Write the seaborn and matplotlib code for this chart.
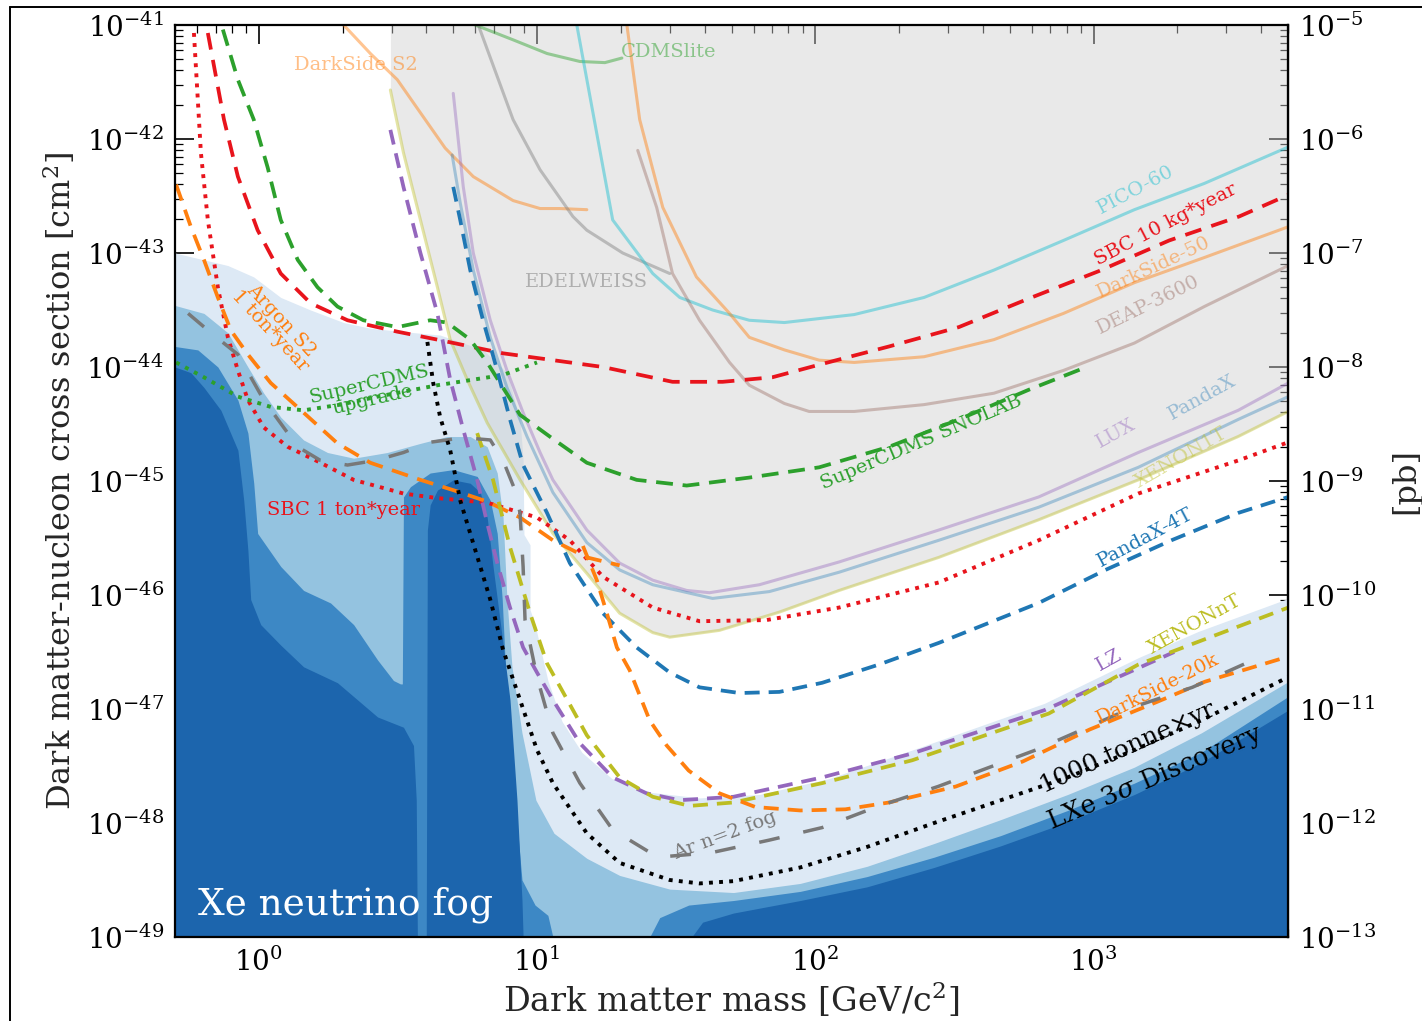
import numpy as np
import matplotlib
matplotlib.use("Agg")
import matplotlib.pyplot as plt
import seaborn as sns
from matplotlib.lines import Line2D
from matplotlib.ticker import LogLocator, NullFormatter

# ---------------- data (log10 mass [GeV], log10 cross section [cm^2]) ----------------
pico60_logm = [1.143, 1.272, 1.416, 1.513, 1.631, 1.763, 1.889, 2.140, 2.391, 2.642, 2.892, 3.147, 3.398, 3.70]
pico60_logs = [-41.0, -42.71, -43.18, -43.39, -43.50, -43.59, -43.61, -43.54, -43.39, -43.15, -42.89, -42.62, -42.39, -42.07]

ds50_logm = [1.323, 1.369, 1.452, 1.573, 1.692, 1.763, 1.889, 2.014, 2.140, 2.391, 2.642, 2.892, 3.147, 3.398, 3.70]
ds50_logs = [-41.0, -41.83, -42.60, -43.21, -43.53, -43.74, -43.85, -43.94, -43.96, -43.91, -43.76, -43.53, -43.26, -43.04, -42.77]

deap_logm = [1.362, 1.430, 1.487, 1.584, 1.692, 1.763, 1.889, 1.978, 2.140, 2.391, 2.642, 2.892, 3.147, 3.398, 3.70]
deap_logs = [-42.10, -42.60, -43.18, -43.59, -43.96, -44.16, -44.32, -44.39, -44.39, -44.33, -44.23, -44.03, -43.79, -43.47, -43.11]

edel_logm = [0.789, 0.914, 1.011, 1.129, 1.179, 1.308, 1.477]
edel_logs = [-41.0, -41.83, -42.27, -42.68, -42.80, -43.00, -43.18]

cdmslite_logm = [0.778, 0.914, 1.036, 1.154, 1.244, 1.305]
cdmslite_logs = [-41.0, -41.13, -41.25, -41.32, -41.33, -41.29]

dss2_logm = [0.305, 0.401, 0.498, 0.581, 0.670, 0.771, 0.914, 1.011, 1.082, 1.179]
dss2_logs = [-41.0, -41.25, -41.48, -41.77, -42.08, -42.33, -42.54, -42.61, -42.61, -42.62]

lux_logm = [0.699, 0.735, 0.771, 0.832, 0.892, 0.950, 1.011, 1.057, 1.179, 1.297, 1.416, 1.538, 1.620, 1.799, 2.086, 2.444, 2.803, 3.161, 3.520, 3.70]
lux_logs = [-41.60, -42.42, -43.0, -43.59, -44.03, -44.40, -44.75, -44.99, -45.43, -45.72, -45.87, -45.96, -45.98, -45.91, -45.71, -45.43, -45.14, -44.75, -44.38, -44.14]

pandax_logm = [0.695, 0.724, 0.771, 0.832, 0.892, 0.964, 1.057, 1.179, 1.297, 1.416, 1.631, 1.835, 2.086, 2.444, 2.803, 3.161, 3.520, 3.70]
pandax_logs = [-42.14, -42.56, -43.15, -43.74, -44.18, -44.61, -45.10, -45.54, -45.78, -45.91, -46.03, -45.97, -45.80, -45.52, -45.23, -44.88, -44.46, -44.26]

xe1t_logm = [0.473, 0.520, 0.581, 0.642, 0.688, 0.749, 0.821, 0.939, 1.057, 1.179, 1.297, 1.416, 1.477, 1.656, 1.871, 2.086, 2.444, 2.803, 3.161, 3.520, 3.70]
xe1t_logs = [-41.57, -42.12, -42.71, -43.30, -43.76, -44.11, -44.49, -44.99, -45.46, -45.81, -46.16, -46.33, -46.37, -46.31, -46.15, -45.96, -45.67, -45.34, -44.99, -44.61, -44.39]

sbc10_logm = [-0.183, -0.125, -0.075, -0.004, 0.079, 0.186, 0.319, 0.498, 0.642, 0.878, 1.237, 1.487, 1.667, 1.846, 2.014, 2.265, 2.516, 2.767, 3.018, 3.272, 3.523, 3.70]
sbc10_logs = [-41.07, -41.83, -42.33, -42.80, -43.18, -43.44, -43.59, -43.69, -43.76, -43.88, -44.00, -44.13, -44.13, -44.09, -43.98, -43.82, -43.65, -43.40, -43.16, -42.89, -42.68, -42.49]

sbc1t_logm = [-0.233, -0.208, -0.183, -0.147, -0.111, -0.075, -0.039, 0.018, 0.104, 0.222, 0.341, 0.520, 0.642, 0.821, 1.000, 1.118, 1.237, 1.416, 1.584, 1.824, 2.086, 2.444, 2.803, 3.161, 3.520, 3.70]
sbc1t_logs = [-41.07, -42.12, -42.71, -43.30, -43.74, -44.03, -44.29, -44.53, -44.70, -44.84, -44.99, -45.11, -45.15, -45.19, -45.32, -45.52, -45.84, -46.11, -46.23, -46.22, -46.11, -45.89, -45.52, -45.11, -44.82, -44.66]

snolab_logm = [-0.129, -0.075, -0.018, 0.032, 0.079, 0.140, 0.211, 0.283, 0.376, 0.498, 0.616, 0.677, 0.760, 0.821, 0.939, 1.057, 1.179, 1.358, 1.538, 1.763, 2.014, 2.265, 2.516, 2.767, 2.975]
snolab_logs = [-41.04, -41.48, -41.83, -42.25, -42.71, -43.06, -43.30, -43.47, -43.59, -43.65, -43.59, -43.61, -43.76, -43.96, -44.42, -44.63, -44.84, -44.99, -45.04, -44.97, -44.88, -44.70, -44.46, -44.20, -44.00]

cdmsup_logm = [-0.297, -0.197, -0.075, 0.043, 0.161, 0.294, 0.427, 0.642, 0.878, 1.000]
cdmsup_logs = [-43.96, -44.09, -44.26, -44.35, -44.38, -44.33, -44.26, -44.16, -44.07, -43.96]

args2_logm = [-0.297, -0.244, -0.197, -0.147, -0.100, -0.039, 0.043, 0.161, 0.283, 0.401, 0.581, 0.699, 0.821, 0.939, 1.057, 1.179, 1.297]
args2_logs = [-42.40, -42.77, -43.06, -43.39, -43.68, -43.89, -44.14, -44.40, -44.67, -44.84, -44.99, -45.08, -45.18, -45.32, -45.52, -45.67, -45.74]

ds20k_logm = [1.165, 1.215, 1.251, 1.287, 1.333, 1.405, 1.466, 1.545, 1.656, 1.785, 1.946, 2.108, 2.265, 2.505, 2.746, 2.986, 3.226, 3.401, 3.70]
ds20k_logs = [-45.57, -45.87, -46.16, -46.46, -46.66, -47.10, -47.32, -47.54, -47.74, -47.86, -47.89, -47.88, -47.82, -47.68, -47.46, -47.18, -46.94, -46.76, -46.54]

lz_logm = [0.473, 0.520, 0.581, 0.642, 0.688, 0.735, 0.785, 0.821, 0.857, 0.903, 0.950, 1.000, 1.057, 1.154, 1.272, 1.394, 1.513, 1.706, 2.025, 2.348, 2.824, 3.290]
lz_logs = [-41.92, -42.42, -43.00, -43.53, -44.11, -44.55, -44.99, -45.37, -45.72, -46.11, -46.46, -46.68, -46.92, -47.30, -47.60, -47.74, -47.80, -47.77, -47.60, -47.39, -47.01, -46.50]

xent_logm = [0.785, 0.842, 0.903, 0.975, 1.036, 1.118, 1.179, 1.297, 1.416, 1.548, 1.706, 2.025, 2.348, 2.839, 3.161, 3.70]
xent_logs = [-44.58, -44.99, -45.58, -46.16, -46.60, -46.96, -47.23, -47.60, -47.77, -47.85, -47.82, -47.65, -47.45, -47.04, -46.61, -46.11]

px4t_logm = [0.699, 0.724, 0.760, 0.806, 0.857, 0.903, 0.950, 1.036, 1.118, 1.237, 1.358, 1.477, 1.584, 1.728, 1.871, 2.025, 2.229, 2.444, 2.803, 3.043, 3.280, 3.520, 3.70]
px4t_logs = [-42.42, -42.71, -43.15, -43.59, -44.03, -44.46, -44.86, -45.28, -45.72, -46.16, -46.46, -46.68, -46.81, -46.86, -46.85, -46.77, -46.61, -46.42, -46.07, -45.78, -45.52, -45.28, -45.14]

arfog_logm = [-0.254, -0.172, -0.075, 0.018, 0.140, 0.222, 0.319, 0.419, 0.520, 0.616, 0.735, 0.832, 0.878, 0.921, 0.939, 0.950, 0.957, 1.000, 1.057, 1.154, 1.272, 1.434, 1.627, 1.835, 2.025, 2.219, 2.441, 2.792, 3.147, 3.355, 3.556]
arfog_logs = [-43.53, -43.70, -43.89, -44.29, -44.70, -44.82, -44.86, -44.82, -44.75, -44.66, -44.62, -44.64, -44.82, -45.08, -45.28, -45.75, -46.22, -46.72, -47.21, -47.65, -48.06, -48.30, -48.26, -48.15, -48.04, -47.86, -47.68, -47.36, -46.98, -46.81, -46.59]

lxe_logm = [0.606, 0.627, 0.652, 0.688, 0.724, 0.760, 0.796, 0.832, 0.878, 0.939, 1.000, 1.057, 1.179, 1.297, 1.477, 1.584, 1.706, 1.946, 2.186, 2.427, 2.667, 2.907, 3.147, 3.387, 3.70]
lxe_logs = [-43.78, -44.14, -44.44, -44.73, -45.17, -45.46, -45.75, -46.04, -46.48, -46.92, -47.36, -47.65, -48.09, -48.35, -48.50, -48.53, -48.51, -48.39, -48.21, -48.00, -47.80, -47.60, -47.36, -47.10, -46.72]

# neutrino fog contour levels (upper boundaries)
fog1_logm = [-0.301, -0.197, -0.111, -0.018, 0.079, 0.186, 0.305, 0.401, 0.520, 0.652, 0.806, 0.892, 0.939, 0.950, 0.953, 0.975, 0.975, 0.993, 1.039, 1.090, 1.161, 1.269, 1.405, 1.584, 1.799, 2.050, 2.348, 2.824, 3.161, 3.376, 3.70]
fog1_logs = [-43.0, -43.06, -43.11, -43.21, -43.39, -43.50, -43.61, -43.66, -43.69, -43.72, -43.85, -44.05, -44.46, -44.82, -45.47, -45.56, -46.13, -46.26, -46.75, -47.11, -47.38, -47.61, -47.73, -47.78, -47.75, -47.61, -47.36, -46.95, -46.55, -46.32, -46.03]

fog2_logm = [-0.301, -0.197, -0.111, -0.039, 0.018, 0.079, 0.161, 0.247, 0.341, 0.462, 0.581, 0.677, 0.760, 0.821, 0.857, 0.878, 0.892, 0.910, 0.946, 0.996, 1.061, 1.179, 1.297, 1.477, 1.706, 1.946, 2.186, 2.427, 2.667, 2.907, 3.147, 3.387, 3.70]
fog2_logs = [-43.46, -43.53, -43.70, -44.00, -44.23, -44.44, -44.64, -44.75, -44.80, -44.75, -44.67, -44.61, -44.61, -44.70, -44.93, -45.32, -46.04, -46.63, -47.21, -47.80, -48.09, -48.31, -48.46, -48.58, -48.61, -48.53, -48.38, -48.18, -47.97, -47.75, -47.51, -47.21, -46.76]

fog3a_logm = [-0.301, -0.219, -0.147, -0.075, -0.039, -0.018, -0.004, 0.079, 0.161, 0.258, 0.341, 0.427, 0.484, 0.509, 0.516, 0.520, 0.545, 0.616, 0.699, 0.785, 0.832, 0.857, 0.875, 0.892, 0.921, 0.946, 0.993, 1.039, 1.057]
fog3a_logs = [-43.82, -43.85, -44.00, -44.29, -44.58, -45.02, -45.46, -45.75, -45.96, -46.07, -46.26, -46.57, -46.75, -46.78, -46.78, -45.14, -45.05, -44.93, -44.90, -44.96, -45.17, -45.46, -46.04, -46.92, -47.80, -48.50, -48.72, -48.81, -49.0]
fog3b_logm = [1.405, 1.441, 1.545, 1.706, 1.946, 2.186, 2.427, 2.667, 2.907, 3.147, 3.387, 3.70]
fog3b_logs = [-49.0, -48.83, -48.72, -48.68, -48.60, -48.47, -48.30, -48.11, -47.89, -47.65, -47.38, -46.89]

fog4a_logm = [-0.301, -0.244, -0.197, -0.136, -0.075, -0.054, -0.039, -0.029, 0.007, 0.079, 0.161, 0.283, 0.355, 0.427, 0.520, 0.556, 0.566, 0.570, 0.602, 0.606, 0.616, 0.642, 0.699, 0.760, 0.796, 0.821, 0.842, 0.867, 0.903, 0.928, 0.946, 0.950]
fog4a_logs = [-44.00, -44.05, -44.18, -44.38, -44.73, -45.17, -45.61, -46.04, -46.26, -46.44, -46.63, -46.77, -46.92, -47.07, -47.16, -47.32, -47.80, -49.0, -49.0, -45.43, -45.21, -45.08, -44.99, -45.02, -45.10, -45.32, -45.75, -46.22, -46.92, -47.80, -48.68, -49.0]
fog4b_logm = [1.556, 1.595, 1.706, 1.946, 2.186, 2.427, 2.667, 2.907, 3.147, 3.387, 3.70]
fog4b_logs = [-49.0, -48.87, -48.79, -48.68, -48.56, -48.39, -48.20, -47.99, -47.75, -47.47, -47.01]

# ---------------- style ----------------
sns.set_theme(style="ticks")
plt.rcParams["font.family"] = ["DejaVu Serif"]
plt.rcParams["mathtext.fontset"] = "dejavuserif"

C_BLUE, C_ORANGE, C_GREEN = "#1f77b4", "#ff7f0e", "#2ca02c"
C_PURPLE, C_BROWN, C_GRAY = "#9467bd", "#8c564b", "#7f7f7f"
C_OLIVE, C_CYAN, C_RED = "#bcbd22", "#17becf", "#e8141c"


def xy(lm, ls):
    return 10.0 ** np.asarray(lm, float), 10.0 ** np.asarray(ls, float)


fig = plt.figure(figsize=(14.22, 10.21), dpi=100)
fig.patch.set_facecolor("white")
ax = fig.add_axes([175 / 1422, 1 - 937 / 1021, (1288 - 175) / 1422, (937 - 25) / 1021])
ax.set_facecolor("white")
ax.set_xscale("log")
ax.set_yscale("log")
ax.set_xlim(0.5, 5000)
ax.set_ylim(1e-49, 1e-41)

# neutrino fog
BOTTOM = 1e-50
for lm, ls, col in [(fog1_logm, fog1_logs, "#dde9f5"),
                    (fog2_logm, fog2_logs, "#94c3e0"),
                    (fog3a_logm, fog3a_logs, "#3d88c5"),
                    (fog3b_logm, fog3b_logs, "#3d88c5"),
                    (fog4a_logm, fog4a_logs, "#1c65ad"),
                    (fog4b_logm, fog4b_logs, "#1c65ad")]:
    m, s = xy(lm, ls)
    ax.fill_between(m, s, BOTTOM, color=col, lw=0, zorder=1)

# excluded (grey) region above XENON1T
m, s = xy(xe1t_logm, xe1t_logs)
ax.fill_between(m, s, 1e-40, color="#cfcfcf", alpha=0.45, lw=0, zorder=2)


def line(lm, ls, color, lw=2.2, style="-", alpha=1.0, z=3):
    m, s = xy(lm, ls)
    sns.lineplot(x=m, y=s, ax=ax, color=color, lw=lw, linestyle=style,
                 alpha=alpha, estimator=None, sort=False, zorder=z)


# existing limits (faint solid)
line(dss2_logm, dss2_logs, C_ORANGE, alpha=0.45)
line(cdmslite_logm, cdmslite_logs, C_GREEN, alpha=0.45)
line(edel_logm, edel_logs, C_GRAY, alpha=0.45)
line(pico60_logm, pico60_logs, C_CYAN, alpha=0.45)
line(ds50_logm, ds50_logs, C_ORANGE, alpha=0.45)
line(deap_logm, deap_logs, C_BROWN, alpha=0.35)
line(lux_logm, lux_logs, C_PURPLE, alpha=0.4)
line(pandax_logm, pandax_logs, C_BLUE, alpha=0.35)
line(xe1t_logm, xe1t_logs, C_OLIVE, alpha=0.4)

# projections
line(sbc10_logm, sbc10_logs, C_RED, lw=2.7, style=(0, (4.5, 2.8)), z=4)
line(sbc1t_logm, sbc1t_logs, C_RED, lw=2.8, style=(0, (1, 1.6)), z=4)
line(snolab_logm, snolab_logs, C_GREEN, lw=2.7, style=(0, (4.5, 2.6)), z=4)
line(cdmsup_logm, cdmsup_logs, C_GREEN, lw=2.8, style=(0, (1, 1.6)), z=4)
line(args2_logm, args2_logs, C_ORANGE, lw=2.7, style=(0, (4.5, 2.6)), z=4)
line(px4t_logm, px4t_logs, C_BLUE, lw=2.7, style=(0, (4, 2.4)), z=4)
line(lz_logm, lz_logs, C_PURPLE, lw=2.7, style=(0, (4, 2.4)), z=4)
line(xent_logm, xent_logs, C_OLIVE, lw=2.7, style=(0, (4, 2.4)), z=4)
line(ds20k_logm, ds20k_logs, C_ORANGE, lw=2.7, style=(0, (4, 2.4)), z=4)
line(arfog_logm, arfog_logs, "#787878", lw=2.5, style=(0, (6, 7)), z=4)
line(lxe_logm, lxe_logs, "black", lw=2.8, style=(0, (1, 1.6)), z=4)

# ---------------- labels ----------------
def lab(x, y, t, color, rot=0, size=14, alpha=1.0, **kw):
    ax.text(x, y, t, color=color, rotation=rot, fontsize=size, alpha=alpha,
            ha="center", va="center", rotation_mode="anchor", zorder=6, **kw)


lab(2.23, 4.5e-42, "DarkSide S2", C_ORANGE, alpha=0.5)
lab(29.7, 5.8e-42, "CDMSlite", C_GREEN, alpha=0.5)
lab(15.0, 5.6e-44, "EDELWEISS", C_GRAY, alpha=0.55)
lab(1415, 3.55e-43, "PICO-60", C_CYAN, rot=28, alpha=0.5)
lab(1811, 1.78e-43, "SBC 10 kg*year", C_RED, rot=27.5)
lab(1641, 7.4e-44, "DarkSide-50", C_ORANGE, rot=25, alpha=0.5)
lab(1575, 3.5e-44, "DEAP-3600", C_BROWN, rot=26, alpha=0.4)
lab(240, 2.2e-45, "SuperCDMS SNOLAB", C_GREEN, rot=23)
lab(1208, 2.6e-45, "LUX", C_PURPLE, rot=29, alpha=0.45)
lab(2459, 5.4e-45, "PandaX", C_BLUE, rot=29, alpha=0.4)
lab(2067, 1.6e-45, "XENON1T", C_OLIVE, rot=30, alpha=0.45)
lab(1536, 3.2e-46, "PandaX-4T", C_BLUE, rot=28)
lab(2320, 5.5e-47, "XENONnT", C_OLIVE, rot=29)
lab(1141, 2.7e-47, "LZ", C_PURPLE, rot=29)
lab(1709, 1.5e-47, "DarkSide-20k", C_ORANGE, rot=27)
lab(1334, 4.6e-48, "1000 tonne$\\times$yr", "black", rot=24.5, size=18)
lab(1667, 2.5e-48, "LXe 3$\\sigma$ Discovery", "black", rot=23, size=18.5)
lab(47.2, 7.8e-49, "Ar n=2 fog", "#787878", rot=20.5)
lab(2.02, 5.6e-46, "SBC 1 ton*year", C_RED)
lab(2.52, 6.0e-45, "SuperCDMS\nupgrade", C_GREEN, rot=13, linespacing=0.85)
lab(1.15, 2.3e-44, "Argon S2\n1 ton*year", C_ORANGE, rot=-47, linespacing=0.85)
ax.text(0.604, 1.9e-49, "Xe neutrino fog", color="white", fontsize=27,
        ha="left", va="center", zorder=6)

# ---------------- axes cosmetics ----------------
ax.set_xticks([1, 10, 100, 1000])
ax.xaxis.set_minor_locator(LogLocator(base=10, subs=np.arange(2, 10), numticks=100))
ax.xaxis.set_minor_formatter(NullFormatter())
ax.set_yticks([10.0 ** k for k in range(-49, -40)])
ax.yaxis.set_minor_locator(LogLocator(base=10, subs=np.arange(2, 10), numticks=100))
ax.yaxis.set_minor_formatter(NullFormatter())
ax.tick_params(which="both", direction="in", top=True, right=False, colors="black")
ax.tick_params(which="major", length=14, width=1.2, labelsize=20, pad=8)
ax.tick_params(which="minor", length=6, width=0.9)
for sp in ax.spines.values():
    sp.set_linewidth(1.6)
    sp.set_color("black")
    sp.set_zorder(10)

ax.set_xlabel("Dark matter mass [GeV/c$^{2}$]", fontsize=24, labelpad=2)
ax.set_ylabel("Dark matter-nucleon cross section [cm$^{2}$]", fontsize=23, labelpad=6)

sec = ax.secondary_yaxis("right", functions=(lambda y: y * 1e36, lambda y: y / 1e36))
sec.set_yticks([10.0 ** k for k in range(-13, -4)])
sec.yaxis.set_minor_locator(LogLocator(base=10, subs=np.arange(2, 10), numticks=100))
sec.yaxis.set_minor_formatter(NullFormatter())
sec.tick_params(which="both", direction="in", colors="black")
sec.tick_params(which="major", length=14, width=1.2, labelsize=20, pad=8)
sec.tick_params(which="minor", length=6, width=0.9)
sec.spines["right"].set_linewidth(1.6)
sec.set_ylabel("[pb]", fontsize=23, rotation=90, labelpad=10)

# outer frame of the figure
fig.add_artist(Line2D([10 / 1422, 10 / 1422], [0, 1 - 7 / 1021], transform=fig.transFigure,
                      color="black", lw=1.4))
fig.add_artist(Line2D([10 / 1422, 1], [1 - 7 / 1021, 1 - 7 / 1021], transform=fig.transFigure,
                      color="black", lw=1.4))

fig.savefig("out.png", dpi=100)
